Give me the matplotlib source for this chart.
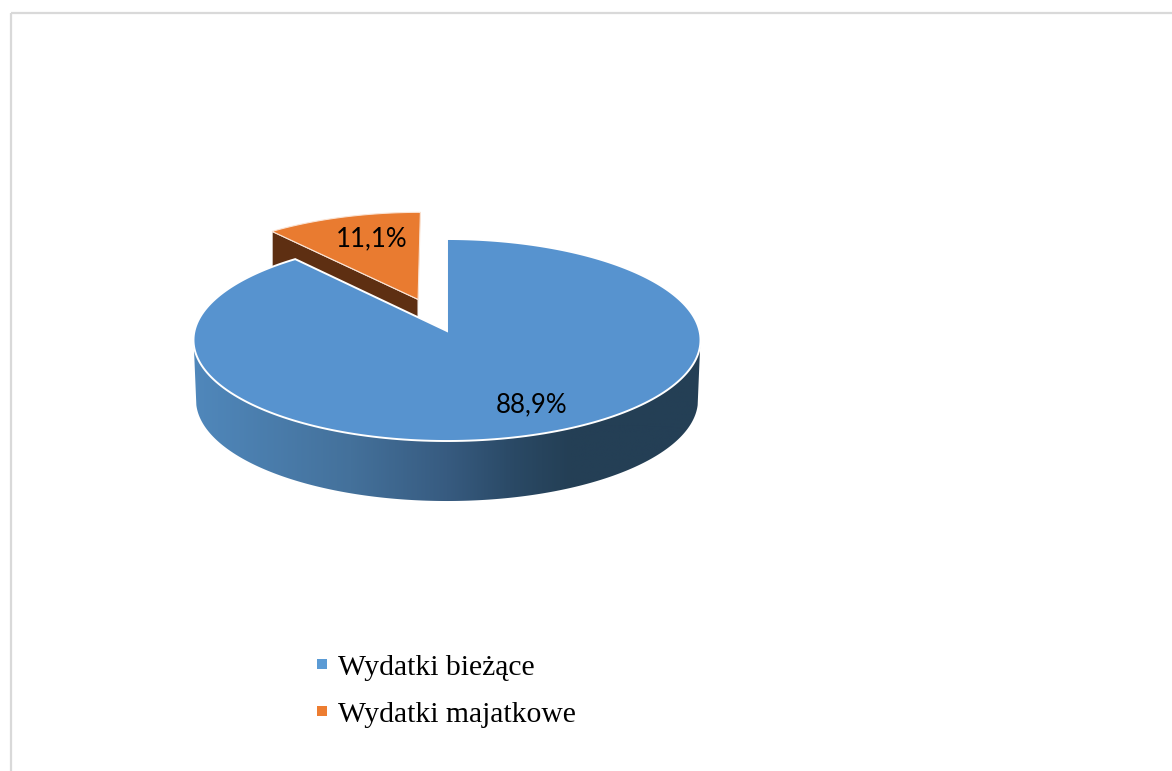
#!/usr/bin/env python3
"""3D-style pie of budget spending, drawn as projected polygons on a pixel canvas."""

import numpy as np
import matplotlib
matplotlib.use("Agg")
import matplotlib.pyplot as plt
from matplotlib.colors import LinearSegmentedColormap
from matplotlib.patches import Patch, Polygon, Rectangle

categories = ["Wydatki bieżące", "Wydatki majatkowe"]
shares = [88.9, 11.1]
share_labels = ["88,9%", "11,1%"]
top_colors = ["#5793CF", "#E97B30"]
legend_colors = ["#5B9BD5", "#ED7D31"]

W, H = 1172, 771
CX, CY = 447.0, 331.0   # pie apex in pixels
A, B = 252.5, 100.2     # disc half axes
PERSP = 0.0892          # far side of the disc shrinks by this much
DEPTH = 60.0
EXPLODE = 0.345


def project(x, y, drop=0.0):
    """Disc coordinates (x right, y away) to canvas pixels."""
    den = 1 + PERSP * y
    scale = 1 - 0.010 * drop / DEPTH
    return CX + A * scale * x / den, CY - B * y / den + drop


def sector(start, stop, offset=(0.0, 0.0), drop=0.0):
    """Outline of a wedge, angles in degrees clockwise from the top."""
    t = np.radians(np.linspace(start, stop, 240))
    xs = np.r_[0.0, np.sin(t)] + offset[0]
    ys = np.r_[0.0, np.cos(t)] + offset[1]
    return np.column_stack(project(xs, ys, drop))


def arc(start, stop, offset=(0.0, 0.0), drop=0.0):
    t = np.radians(np.linspace(start, stop, 240))
    return np.column_stack(project(np.sin(t) + offset[0], np.cos(t) + offset[1], drop))


fig = plt.figure(figsize=(W / 100, H / 100), dpi=100)
ax = fig.add_axes([0, 0, 1, 1])
ax.axis("off")

ax.add_patch(Rectangle((10.5, 12.5), W + 50, H + 50, fill=False, edgecolor="#D9D9D9", linewidth=1.6))

angles = np.cumsum([0.0] + shares) * 3.6

# exploded orange slice goes first, the big slice covers the lower part of its wall
mid = np.radians((angles[1] + angles[2]) / 2)
off = (EXPLODE * np.sin(mid), EXPLODE * np.cos(mid))
left_edge = np.array([project(off[0], off[1]), project(np.sin(np.radians(angles[1])) + off[0],
                                                      np.cos(np.radians(angles[1])) + off[1])])
left_low = left_edge + [0, DEPTH]
ax.add_patch(Polygon(np.r_[left_edge, left_low[::-1]], facecolor="#5E2F12", edgecolor="white", linewidth=0.8, zorder=2))
right_wall = np.r_[arc(angles[1], angles[2], off)[-1:], [project(off[0], off[1])]]
ax.add_patch(Polygon(np.r_[right_wall, right_wall[::-1] + [0, 6]], facecolor="#F2B48C", edgecolor="none", zorder=2))
ax.add_patch(Polygon(sector(angles[1], angles[2], off), facecolor=top_colors[1], edgecolor="#FBE3D3", linewidth=0.8, zorder=3))

# outer wall of the big slice, shaded left to right
upper = arc(262, 98)
lower = arc(262, 98, drop=DEPTH)
wall = Polygon(np.r_[upper[::-1], lower], transform=ax.transData, facecolor="none", edgecolor="none", zorder=4)
ax.add_patch(wall)
shade = LinearSegmentedColormap.from_list(
    "wall", [(0.0, "#5088BC"), (0.31, "#44719B"), (0.50, "#375B80"), (0.63, "#2A4965"), (0.74, "#243F55"), (1.0, "#243F55")])
img = ax.imshow(np.linspace(0, 1, 512)[None, :], cmap=shade, aspect="auto",
                extent=(190, 705, 520, 330), zorder=4)
img.set_clip_path(wall)

ax.add_patch(Polygon(sector(angles[0], angles[1]), facecolor=top_colors[0], edgecolor="white", linewidth=1.4, zorder=5))

ax.text(532, 405, share_labels[0], ha="center", va="center", fontsize=18.6, family="Lato", color="black", zorder=6)
ax.text(372, 239, share_labels[1], ha="center", va="center", fontsize=18.6, family="Lato", color="black", zorder=6)

handles = [Patch(facecolor=c, edgecolor="none", label=n) for c, n in zip(legend_colors, categories)]
ax.legend(handles=handles, loc="upper left", bbox_to_anchor=(305 / W, 1 - 643 / H), frameon=False,
          prop={"family": "Liberation Serif", "size": 21.3}, handlelength=0.34, handleheight=0.15,
          handletextpad=0.38, labelspacing=0.72, borderpad=0.4, borderaxespad=0)

ax.set_xlim(0, W)
ax.set_ylim(H, 0)
fig.savefig("out.png", dpi=100)
